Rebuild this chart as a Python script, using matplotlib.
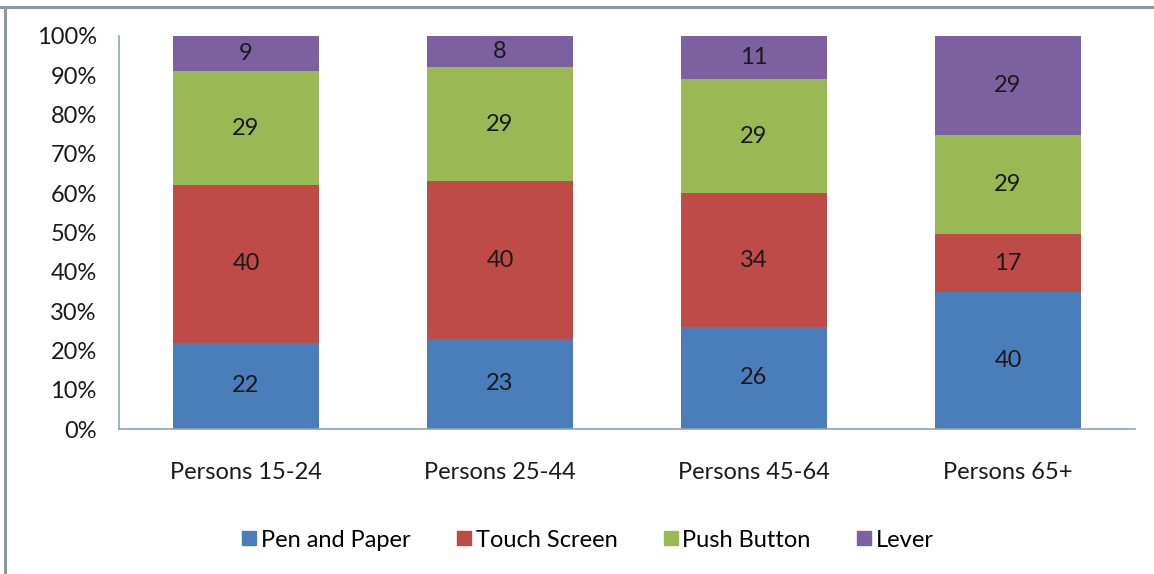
import matplotlib.pyplot as plt
import numpy as np
from matplotlib.lines import Line2D

# ---------- Data ----------
groups = ["Persons 15-24", "Persons 25-44", "Persons 45-64", "Persons 65+"]
series = ["Pen and Paper", "Touch Screen", "Push Button", "Lever"]
pen_paper = [22, 23, 26, 40]
touch_screen = [40, 40, 34, 17]
push_button = [29, 29, 29, 29]
lever = [9, 8, 11, 29]

# ---------- Style ----------
COLORS = ["#4A7EBB", "#BE4B48", "#98B954", "#7D60A0"]
TEXT = "#1A1A1A"
AXIS = "#8AA4BC"
FONT = "Lato"
FS = 17

plt.rcParams["font.family"] = [FONT, "DejaVu Sans"]

fig = plt.figure(figsize=(11.54, 5.74), dpi=100)
ax = fig.add_axes([0.1031, 0.2526, 0.8804, 0.6847])

values = np.array([pen_paper, touch_screen, push_button, lever], dtype=float)
totals = values.sum(axis=0)
shares = values / totals * 100

x = np.arange(len(groups))
bottom = np.zeros(len(groups))
for name, raw, share, color in zip(series, values, shares, COLORS):
    bars = ax.bar(x, share, width=0.575, bottom=bottom, color=color,
                  label=name, linewidth=0)
    for rect, v in zip(bars, raw):
        ax.text(rect.get_x() + rect.get_width() / 2,
                rect.get_y() + rect.get_height() / 2,
                f"{int(v)}", ha="center", va="center",
                fontsize=FS, color=TEXT)
    bottom += share

ax.set_xlim(-0.5, 3.5)
ax.set_ylim(0, 100)
ax.set_yticks(np.arange(0, 101, 10))
ax.set_yticklabels([f"{v}%" for v in range(0, 101, 10)])
ax.set_xticks(x)
ax.set_xticklabels(groups)
ax.tick_params(axis="both", length=0, labelsize=FS, colors=TEXT)
ax.tick_params(axis="y", pad=16)
ax.tick_params(axis="x", pad=24)

for side in ["top", "right"]:
    ax.spines[side].set_visible(False)
for side in ["left", "bottom"]:
    ax.spines[side].set_color(AXIS)
    ax.spines[side].set_linewidth(1.2)

# ---------- Legend ----------
handles = [Line2D([0], [0], marker="s", linestyle="none", markersize=10,
                  markerfacecolor=c, markeredgecolor=c) for c in COLORS]
fig.legend(handles, series, loc="center", bbox_to_anchor=(0.508, 0.059),
           ncol=4, frameon=False, fontsize=FS, handletextpad=0.05,
           columnspacing=1.8, handlelength=0.9)

# ---------- Outer frame (top and left edges) ----------
fig.add_artist(Line2D([0, 1], [1 - 6.5 / 574] * 2, transform=fig.transFigure,
                      color="#8C989F", lw=2.2))
fig.add_artist(Line2D([5 / 1154] * 2, [0, 1 - 6.5 / 574],
                      transform=fig.transFigure, color="#8C989F", lw=2.2))

fig.savefig("out.png", dpi=100, facecolor="white")
